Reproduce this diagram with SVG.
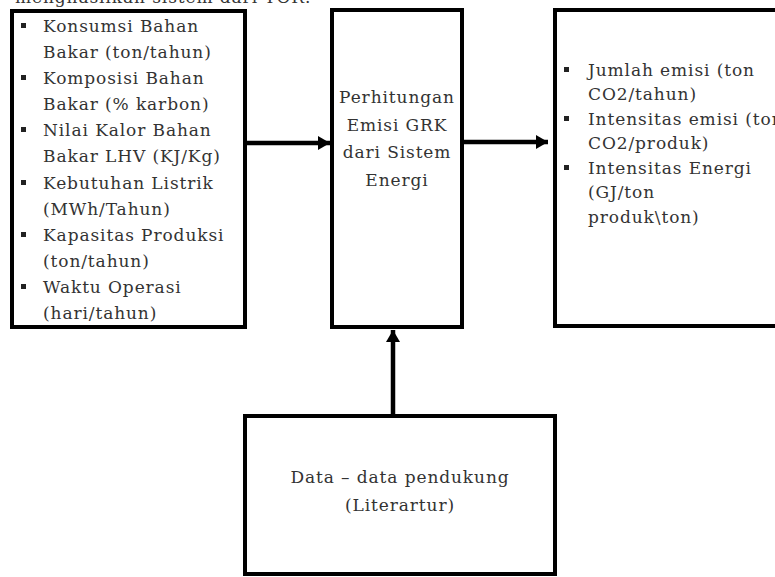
<svg xmlns="http://www.w3.org/2000/svg" width="775" height="577" viewBox="0 0 775 577">
<defs>
<style>
.box{fill:#fff;stroke:#000;stroke-width:4}
.t{font-family:"DejaVu Serif","Liberation Serif",serif;font-size:17px;fill:#333;letter-spacing:0.9px}
.c{text-anchor:middle}
.b{fill:#222}
.conn{stroke:#000;stroke-width:4.5;fill:none}
</style>
<marker id="ah" markerUnits="userSpaceOnUse" markerWidth="14" markerHeight="16" refX="12" refY="8" orient="auto">
<path d="M0,1 L12,8 L0,15 Z" fill="#000"/>
</marker>
</defs>
<rect width="775" height="577" fill="#fff"/>
<text class="t" x="15" y="3">menghasilkan sistem dari TOR.</text>
<g id="inputs">
<rect class="box" x="12" y="11" width="233" height="316"/>
<rect class="b" x="21" y="23" width="5" height="5"/>
<rect class="b" x="21" y="75" width="5" height="5"/>
<rect class="b" x="21" y="127" width="5" height="5"/>
<rect class="b" x="21" y="180" width="5" height="5"/>
<rect class="b" x="21" y="232" width="5" height="5"/>
<rect class="b" x="21" y="284" width="5" height="5"/>
<text class="t" x="43" y="32">Konsumsi Bahan</text>
<text class="t" x="43" y="58">Bakar (ton/tahun)</text>
<text class="t" x="43" y="84">Komposisi Bahan</text>
<text class="t" x="43" y="110">Bakar (% karbon)</text>
<text class="t" x="43" y="136">Nilai Kalor Bahan</text>
<text class="t" x="43" y="162">Bakar LHV (KJ/Kg)</text>
<text class="t" x="43" y="189">Kebutuhan Listrik</text>
<text class="t" x="43" y="215">(MWh/Tahun)</text>
<text class="t" x="43" y="241">Kapasitas Produksi</text>
<text class="t" x="43" y="267">(ton/tahun)</text>
<text class="t" x="43" y="293">Waktu Operasi</text>
<text class="t" x="43" y="319">(hari/tahun)</text>
</g>
<g id="process">
<rect class="box" x="332" y="10" width="130" height="317"/>
<text class="t c" x="397" y="103">Perhitungan</text>
<text class="t c" x="397" y="131">Emisi GRK</text>
<text class="t c" x="397" y="158">dari Sistem</text>
<text class="t c" x="397" y="186">Energi</text>
</g>
<g id="outputs">
<rect class="box" x="555" y="10" width="240" height="316"/>
<rect class="b" x="564" y="67" width="5" height="5"/>
<rect class="b" x="564" y="116" width="5" height="5"/>
<rect class="b" x="564" y="165" width="5" height="5"/>
<text class="t" x="588" y="76">Jumlah emisi (ton</text>
<text class="t" x="588" y="100">CO2/tahun)</text>
<text class="t" x="588" y="125">Intensitas emisi (ton</text>
<text class="t" x="588" y="149">CO2/produk)</text>
<text class="t" x="588" y="174">Intensitas Energi</text>
<text class="t" x="588" y="198">(GJ/ton</text>
<text class="t" x="588" y="223">produk\ton)</text>
</g>
<g id="support">
<rect class="box" x="245" y="416" width="310" height="158"/>
<text class="t c" x="400" y="483">Data – data pendukung</text>
<text class="t c" x="400" y="511">(Literartur)</text>
</g>
<g id="connectors">
<line class="conn" x1="247" y1="143" x2="330" y2="143" marker-end="url(#ah)"/>
<line class="conn" x1="464" y1="142" x2="548" y2="142" marker-end="url(#ah)"/>
<line class="conn" x1="393" y1="414" x2="393" y2="330" marker-end="url(#ah)"/>
</g>
</svg>
